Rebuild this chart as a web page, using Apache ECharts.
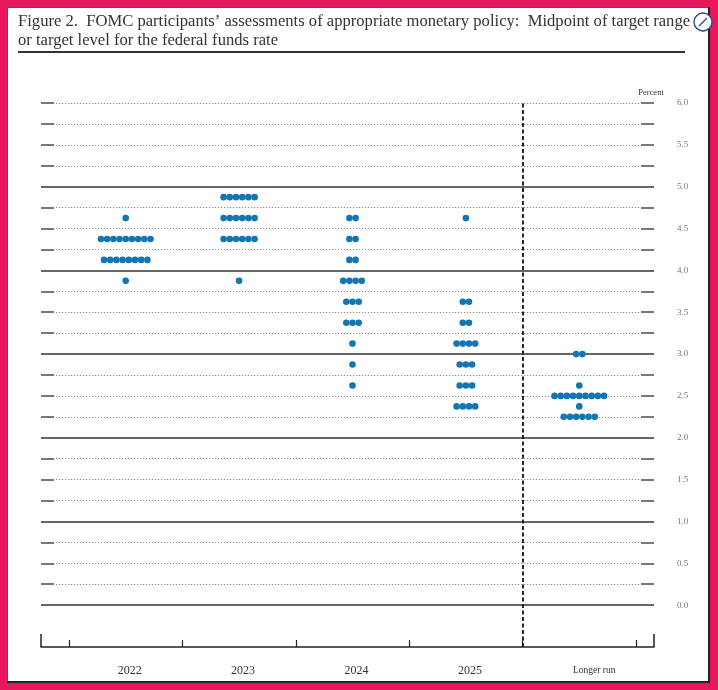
<!DOCTYPE html>
<html><head><meta charset="utf-8">
<script src="https://cdn.jsdelivr.net/npm/echarts@6/dist/echarts.min.js"></script>
<style>
html,body{margin:0;padding:0;background:#e8175d;width:718px;height:690px;overflow:hidden}
#frame{position:absolute;left:7px;top:7px;width:703px;height:676px;background:#fff;border:1px solid #555;border-right:2px solid #222;border-bottom:2px solid #222;box-sizing:border-box}
#chart{position:absolute;left:0;top:0;width:718px;height:690px}
</style></head><body><div id="frame"></div><div id="chart"></div>
<script>
// ---- data ----
const years = ['2022', '2023', '2024', '2025', 'Longer run'];
const levels2022 = [4.625, 4.375, 4.125, 3.875];
const counts2022 = [1, 9, 8, 1];
const levels2023 = [4.875, 4.625, 4.375, 3.875];
const counts2023 = [6, 6, 6, 1];
const levels2024 = [4.625, 4.375, 4.125, 3.875, 3.625, 3.375, 3.125, 2.875, 2.625];
const counts2024 = [2, 2, 2, 4, 3, 3, 1, 1, 1];
const levels2025 = [4.625, 3.625, 3.375, 3.125, 2.875, 2.625, 2.375];
const counts2025 = [1, 2, 2, 4, 3, 3, 4];
const levelsLR = [3.0, 2.625, 2.5, 2.375, 2.25];
const countsLR = [2, 1, 9, 1, 6];
const yTicks = [0.0, 0.5, 1.0, 1.5, 2.0, 2.5, 3.0, 3.5, 4.0, 4.5, 5.0, 5.5, 6.0];

// ---- build ----
const columns = [
  [levels2022, counts2022], [levels2023, counts2023], [levels2024, counts2024],
  [levels2025, counts2025], [levelsLR, countsLR]
];
const DOT_GAP = 6.2;
const dots = [];
columns.forEach(([lv, ct], i) => {
  lv.forEach((level, j) => {
    const n = ct[j];
    for (let k = 0; k < n; k++) {
      dots.push({ value: [i + 0.5, level], symbolOffset: [(k - (n - 1) / 2) * DOT_GAP, 0] });
    }
  });
});

const X_MIN = -0.247, X_MAX = 5.159;
const serif = '"Liberation Serif", "DejaVu Serif", serif';

const marks = [];
for (let v = 0; v <= 5; v++) marks.push({ yAxis: v, lineStyle: { type: 'solid', color: '#666', width: 2 } });
marks.push([{ coord: [4, -0.5], lineStyle: { type: [4, 2.5], color: '#111', width: 1.8 } }, { coord: [4, 6] }]);
marks.push([{ coord: [X_MIN, -0.5], lineStyle: { type: 'solid', color: '#222', width: 1.5 } }, { coord: [X_MIN, -0.345] }]);
marks.push([{ coord: [X_MAX, -0.5], lineStyle: { type: 'solid', color: '#222', width: 1.5 } }, { coord: [X_MAX, -0.345] }]);

const hiddenX = (g) => ({ gridIndex: g, type: 'value', min: 0, max: 1,
  axisLine: { show: false, onZero: false }, axisTick: { show: false }, axisLabel: { show: false }, splitLine: { show: false } });

const chart = echarts.init(document.getElementById('chart'), null, { renderer: 'canvas' });
chart.setOption({
  animation: false,
  grid: [
    { left: 41, right: 64, top: 103, bottom: 43 },
    { left: 41, right: 64, top: 103, bottom: 84.85 },
    { left: 69, right: 82, top: 103, bottom: 43 },
    { left: 41, right: 64, top: 103, bottom: 84.85 }
  ],
  xAxis: [
    { gridIndex: 0, type: 'value', min: X_MIN, max: X_MAX,
      axisLine: { show: true, onZero: false, lineStyle: { color: '#222', width: 1.5 } },
      axisTick: { show: false }, axisLabel: { show: false }, splitLine: { show: false } },
    hiddenX(1),
    { gridIndex: 2, type: 'category', data: years, boundaryGap: true,
      axisLine: { show: false, onZero: false },
      axisTick: { show: true, inside: true, length: 7, lineStyle: { color: '#222', width: 1.2 } },
      axisLabel: { margin: 18, color: '#333', fontFamily: serif, fontSize: 12,
        formatter: v => v === 'Longer run' ? '{b|' + v + '}' : '{a|' + v + '}',
        rich: {
          a: { fontFamily: serif, fontSize: 12, color: '#333', padding: [0, 0, 0, 8] },
          b: { fontFamily: serif, fontSize: 9.5, color: '#333', padding: [0, 0, 0, 30] }
        } },
      splitLine: { show: false } },
    hiddenX(3)
  ],
  yAxis: [
    { gridIndex: 0, type: 'value', min: -0.5, max: 6,
      axisLine: { show: false, onZero: false }, axisTick: { show: false }, axisLabel: { show: false }, splitLine: { show: false } },
    { gridIndex: 1, type: 'value', min: 0, max: 6, interval: 0.25, position: 'right',
      axisLine: { show: false, onZero: false },
      axisTick: { show: true, inside: true, length: 13, lineStyle: { color: '#777', width: 2 } },
      axisLabel: { margin: 23, color: '#777', fontFamily: serif, fontSize: 9,
        formatter: v => yTicks.some(t => Math.abs(t - v) < 1e-6) ? v.toFixed(1) : '' },
      splitLine: { show: true, lineStyle: { type: [1.2, 1.8], color: '#8a8a8a', width: 1 } } },
    { gridIndex: 2, type: 'value', min: 0, max: 1,
      axisLine: { show: false, onZero: false }, axisTick: { show: false }, axisLabel: { show: false }, splitLine: { show: false } },
    { gridIndex: 3, type: 'value', min: 0, max: 6, interval: 0.25, position: 'left',
      axisLine: { show: false, onZero: false },
      axisTick: { show: true, inside: true, length: 13, lineStyle: { color: '#777', width: 2 } },
      axisLabel: { show: false }, splitLine: { show: false } }
  ],
  series: [
    { type: 'scatter', xAxisIndex: 0, yAxisIndex: 0, data: dots, z: 5, clip: false,
      symbol: 'circle', symbolSize: 6.6, itemStyle: { color: '#1276b4', opacity: 1 },
      markLine: { symbol: 'none', silent: true, animation: false, label: { show: false }, z: 1, data: marks } }
  ],
  graphic: [
    { type: 'text', x: 18, y: 22, style: { text: 'Figure 2.  FOMC participants\u2019 assessments of appropriate monetary policy:  Midpoint of target range',
        font: '16.6px ' + serif, fill: '#333', verticalAlign: 'middle' } },
    { type: 'text', x: 18, y: 41, style: { text: 'or target level for the federal funds rate',
        font: '16.6px ' + serif, fill: '#333', verticalAlign: 'middle' } },
    { type: 'rect', shape: { x: 18, y: 51, width: 667, height: 2 }, style: { fill: '#333' } },
    { type: 'text', x: 651, y: 93, style: { text: 'Percent', font: '8.5px ' + serif, fill: '#333', align: 'center', verticalAlign: 'middle' } },
    { type: 'circle', shape: { cx: 703, cy: 22, r: 9 }, style: { fill: '#fff', stroke: '#2b4a86', lineWidth: 1.4 }, z: 10 },
    { type: 'line', shape: { x1: 699, y1: 26, x2: 707, y2: 18 }, style: { stroke: '#2b4a86', lineWidth: 1.2 }, z: 11 }
  ]
});
</script></body></html>
